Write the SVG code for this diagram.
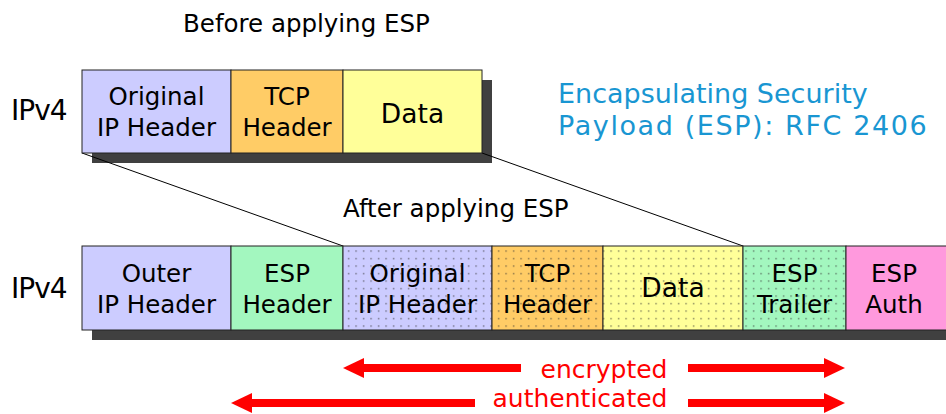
<svg xmlns="http://www.w3.org/2000/svg" width="946" height="414" viewBox="0 0 946 414">
<defs>
<pattern id="dots" width="7.5" height="7.5" patternUnits="userSpaceOnUse">
<rect x="3" y="3" width="1.2" height="1.2" fill="#333" opacity="0.85"/>
</pattern>
<marker id="ah" markerWidth="22" markerHeight="22" viewBox="0 0 22 22" refX="0" refY="11" orient="auto" markerUnits="userSpaceOnUse">
<path d="M0,1 L21,11 L0,21 Z" fill="#ff0000"/>
</marker>
</defs>
<style>
text{font-family:"DejaVu Sans","Liberation Sans",sans-serif;fill:#000;}
.lbl{font-size:24.5px;text-anchor:middle;}
.data{font-size:26.5px;text-anchor:middle;}
.hdr{font-size:24.5px;}
.ipv4{font-size:28px;letter-spacing:-1px;}
.title{font-size:27px;fill:#1996d2;}
.box{stroke:#222;stroke-width:1;}
.shadow{fill:#404040;}
.red{font-size:25px;fill:#ff0000;text-anchor:middle;}
.arr{stroke:#ff0000;stroke-width:8;fill:none;}
.conn{stroke:#000;stroke-width:1;fill:none;}
</style>

<text class="hdr" x="183" y="32">Before applying ESP</text>
<text class="hdr" x="343" y="217">After applying ESP</text>
<text class="title" x="558" y="103">Encapsulating Security</text>
<text class="title" x="558" y="135" letter-spacing="1.6">Payload (ESP): RFC 2406</text>

<text class="ipv4" x="11" y="120">IPv4</text>
<text class="ipv4" x="11" y="298">IPv4</text>

<g id="shadows">
<rect class="shadow" x="92" y="80" width="400" height="83"/>
<rect class="shadow" x="92" y="256" width="854" height="84"/>
</g>

<g id="connectors">
<line class="conn" x1="82" y1="153" x2="343" y2="246"/>
<line class="conn" x1="482" y1="153" x2="743" y2="246"/>
<line class="arr" x1="521" y1="368" x2="364" y2="368" marker-end="url(#ah)"/>
<line class="arr" x1="688" y1="368" x2="824" y2="368" marker-end="url(#ah)"/>
<line class="arr" x1="475" y1="403" x2="252" y2="403" marker-end="url(#ah)"/>
<line class="arr" x1="688" y1="403" x2="824" y2="403" marker-end="url(#ah)"/>
</g>

<g id="top-orig-ip">
<rect class="box" x="82" y="70" width="149" height="83" fill="#ccccff"/>
<text class="lbl" x="156.5" y="105">Original</text>
<text class="lbl" x="156.5" y="136">IP Header</text>
</g>
<g id="top-tcp">
<rect class="box" x="231" y="70" width="112" height="83" fill="#ffcc66"/>
<text class="lbl" x="287" y="105">TCP</text>
<text class="lbl" x="287" y="136">Header</text>
</g>
<g id="top-data">
<rect class="box" x="343" y="70" width="139" height="83" fill="#ffff99"/>
<text class="data" x="412.5" y="123">Data</text>
</g>

<g id="outer-ip">
<rect class="box" x="82" y="246" width="149" height="84" fill="#ccccff"/>
<text class="lbl" x="156.5" y="282">Outer</text>
<text class="lbl" x="156.5" y="313">IP Header</text>
</g>
<g id="esp-header">
<rect class="box" x="231" y="246" width="112" height="84" fill="#a3f7bf"/>
<text class="lbl" x="287" y="282">ESP</text>
<text class="lbl" x="287" y="313">Header</text>
</g>
<g id="bot-orig-ip">
<rect class="box" x="343" y="246" width="149" height="84" fill="#ccccff"/>
<rect x="343" y="246" width="149" height="84" fill="url(#dots)"/>
<text class="lbl" x="417.5" y="282">Original</text>
<text class="lbl" x="417.5" y="313">IP Header</text>
</g>
<g id="bot-tcp">
<rect class="box" x="492" y="246" width="111" height="84" fill="#ffcc66"/>
<rect x="492" y="246" width="111" height="84" fill="url(#dots)"/>
<text class="lbl" x="547.5" y="282">TCP</text>
<text class="lbl" x="547.5" y="313">Header</text>
</g>
<g id="bot-data">
<rect class="box" x="603" y="246" width="140" height="84" fill="#ffff99"/>
<rect x="603" y="246" width="140" height="84" fill="url(#dots)"/>
<text class="data" x="673" y="297">Data</text>
</g>
<g id="esp-trailer">
<rect class="box" x="743" y="246" width="103" height="84" fill="#a3f7bf"/>
<rect x="743" y="246" width="103" height="84" fill="url(#dots)"/>
<text class="lbl" x="794.5" y="282">ESP</text>
<text class="lbl" x="794.5" y="313">Trailer</text>
</g>
<g id="esp-auth">
<rect class="box" x="846" y="246" width="101" height="84" fill="#ff99dd"/>
<text class="lbl" x="894" y="282">ESP</text>
<text class="lbl" x="894" y="313">Auth</text>
</g>

<g id="labels">
<text class="red" x="604" y="378">encrypted</text>
<text class="red" x="580" y="407">authenticated</text>
</g>
</svg>
